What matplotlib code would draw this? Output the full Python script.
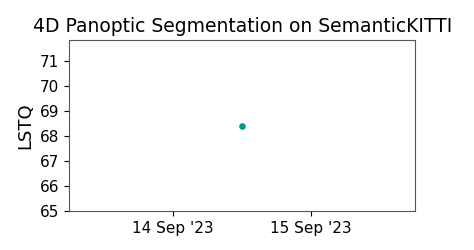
"""
Plot of LSTQ results for 4D panoptic segmentation on SemanticKITTI.
"""

import datetime as dt

import matplotlib
matplotlib.use('Agg')
import matplotlib.dates as mdates
import matplotlib.pyplot as plt

# * Data
dates = [dt.datetime(2023, 9, 14, 12, 0)]
lstq = [68.4]
y_ticks = [65, 66, 67, 68, 69, 70, 71]

fig, ax = plt.subplots(figsize=(4.74, 2.5), dpi=100)
fig.subplots_adjust(left=0.146, right=0.876, top=0.84, bottom=0.156)

ax.scatter(dates, lstq, color='#009988', s=14, zorder=3)

half = dt.timedelta(days=1.254)
ax.set_xlim(dates[0] - half, dates[0] + half)
ax.set_ylim(65, 71.84)
ax.set_yticks(y_ticks)

ax.xaxis.set_major_locator(mdates.DayLocator())
ax.xaxis.set_major_formatter(mdates.DateFormatter("%d %b '%y"))

ax.set_title('4D Panoptic Segmentation on SemanticKITTI', fontsize=13.5)
ax.set_ylabel('LSTQ', fontsize=13)
ax.tick_params(labelsize=11)

for spine in ax.spines.values():
    spine.set_color('#555555')

fig.savefig('out.png', dpi=100)
